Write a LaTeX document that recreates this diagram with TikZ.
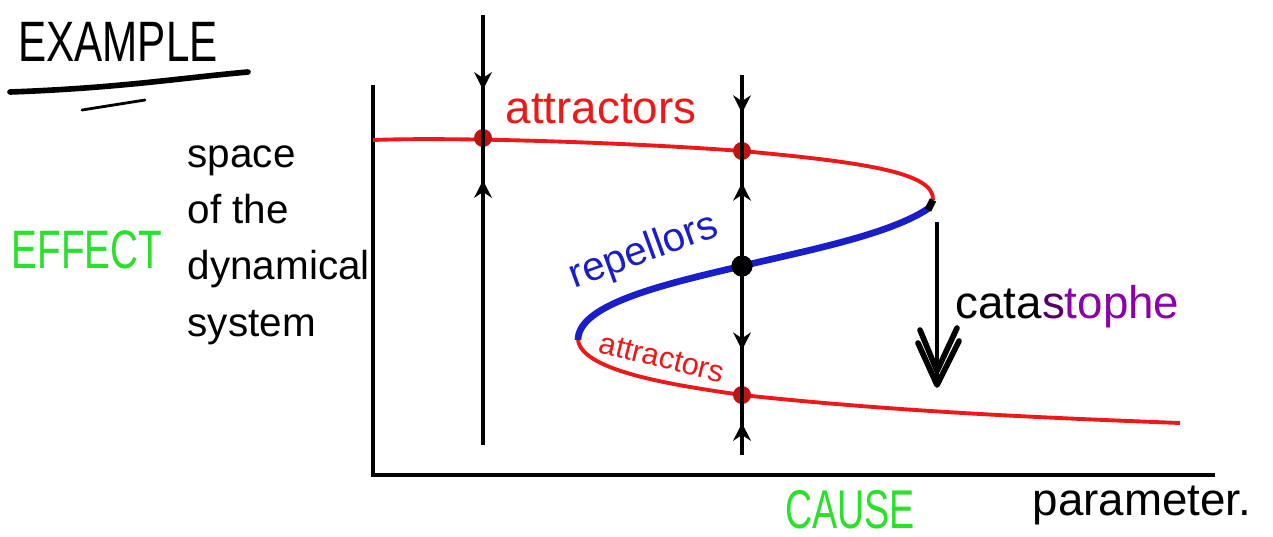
\documentclass[tikz,border=0pt]{standalone}
\usepackage{fontspec}
\setmainfont{Liberation Sans}
\usepackage{graphicx}
\usetikzlibrary{arrows.meta,decorations.markings}
\definecolor{hred}{RGB}{238,24,24}
\definecolor{hdot}{RGB}{190,20,20}
\definecolor{hblue}{RGB}{25,30,200}
\definecolor{hgreen}{RGB}{40,225,40}
\definecolor{hpurple}{RGB}{140,0,170}
\tikzset{
  axisline/.style={line width=1pt,black},
  flowline/.style={line width=1pt,black},
  redcurve/.style={hred,line width=1.1pt},
  bluecurve/.style={hblue,line width=1.9pt},
  rdot/.style={circle,fill=hdot,inner sep=0pt,minimum size=0.18cm},
  bdot/.style={circle,fill=black,inner sep=0pt,minimum size=0.21cm},
  lbl/.style={inner sep=0pt},
  chevron/.style={line width=1.6pt,line cap=round,line join=round},
  tipd/.tip={Stealth[length=5pt,width=5pt]},
}
\begin{document}
\begin{tikzpicture}[x=0.01cm,y=-0.01cm]
\useasboundingbox[fill=white] (0,0) rectangle (1273,536);

% title
\node[lbl] (title) at (118,42) {\scalebox{1}[1.35]{\fontsize{12}{12}\selectfont EXAMPLE}};
\draw[line width=1.6pt,line cap=round] (10,92) .. controls (120,88) and (180,78) .. (248,72);
\draw[line width=0.8pt,line cap=round] (82,110) -- (145,100);

% axes
\coordinate (O) at (373,475);
\coordinate (ytop) at (373,85);
\coordinate (xend) at (1215,475);
\draw[axisline] (ytop) -- (O) -- (xend);

% labels
\node[lbl,text=hgreen] (effect) at (87,250) {\scalebox{1}[1.4]{\fontsize{11}{11}\selectfont EFFECT}};
\node[lbl,text=hgreen] (cause) at (850,510) {\scalebox{1}[1.45]{\fontsize{10.7}{11}\selectfont CAUSE}};
\node[lbl,anchor=base] (param) at (1142,515) {\fontsize{13}{13}\selectfont parameter.};
\node[lbl,anchor=west,align=left,font=\fontsize{11.5}{16}\selectfont] (space) at (187,245) {space\\of the\\dynamical\\system};

% curves
\coordinate (c0) at (373,140);
\coordinate (turnR) at (933,200);
\coordinate (turnL) at (578,340);
\coordinate (c9) at (1180,423);
\draw[redcurve] (c0) .. controls (450,137) and (620,142) .. (742,151)
   .. controls (860,162) and (935,172) .. (turnR);
\draw[bluecurve] (929,208) .. controls (890,235) and (800,252) .. (742,266)
   .. controls (660,285) and (578,305) .. (turnL);
\draw[line width=2pt,black] (turnR) -- (928,210);
\draw[redcurve] (turnL) .. controls (582,372) and (680,386) .. (742,395)
   .. controls (900,412) and (1050,418) .. (c9);

% curve labels
\node[lbl,anchor=base west,text=hred] (attrA) at (505,123) {\fontsize{13}{13}\selectfont attractors};
\node[lbl,text=hblue,rotate=20] (rep) at (644,252) {\fontsize{11.5}{12}\selectfont repellors};
\node[lbl,text=hred,rotate=-14] (attrB) at (662,358) {\fontsize{8.7}{9}\selectfont attractors};

% fixed points
\node[rdot] (p1) at (483,138) {};
\node[rdot] (p2) at (742,151) {};
\node[bdot] (p3) at (742,266) {};
\node[rdot] (p4) at (742,395) {};

% flow lines
\coordinate (l1t) at (483,15);
\coordinate (l1b) at (483,445);
\coordinate (l2t) at (742,75);
\coordinate (l2b) at (742,455);
\draw[flowline,decoration={markings,
   mark=at position 0.174 with {\arrow{tipd}},
   mark=at position 0.384 with {\arrowreversed{tipd}}},postaction=decorate] (l1t) -- (l1b);
\draw[flowline,decoration={markings,
   mark=at position 0.10 with {\arrow{tipd}},
   mark=at position 0.284 with {\arrowreversed{tipd}},
   mark=at position 0.724 with {\arrow{tipd}},
   mark=at position 0.916 with {\arrowreversed{tipd}}},postaction=decorate] (l2t) -- (l2b);
\node[bdot] at (p3) {};

% catastrophe
\coordinate (ca) at (937,222);
\coordinate (cb) at (937,385);
\draw[line width=1pt] (ca) -- (cb);
\draw[chevron] ([shift={(-19,-42)}]cb) -- (cb) -- ([shift={(22,-44)}]cb);
\draw[chevron] ([shift={(-17,-55)}]cb) -- ([shift={(0,-14)}]cb) -- ([shift={(20,-57)}]cb);
\node[lbl,anchor=base west] (cat) at (955,318) {\fontsize{13}{13}\selectfont cata\textcolor{hpurple!60!black}{s}\textcolor{hpurple}{tophe}};
\end{tikzpicture}
\end{document}
